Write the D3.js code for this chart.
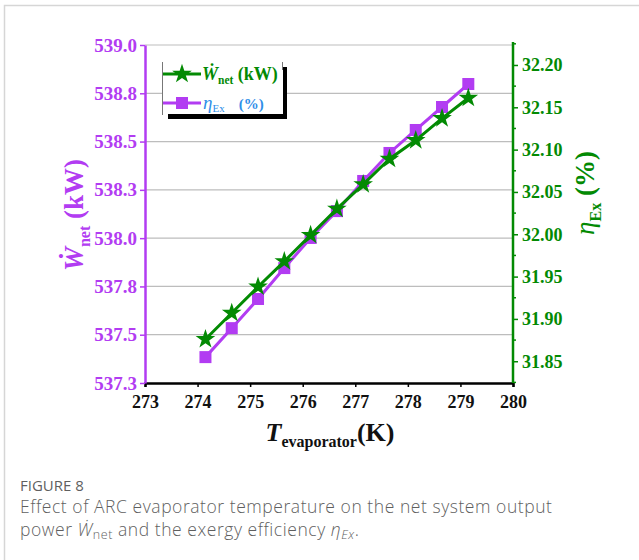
<!DOCTYPE html>
<html>
<head>
<meta charset="utf-8">
<script src="https://cdn.jsdelivr.net/npm/d3@7"></script>
<style>
  body { margin: 0; background: #fff; }
  svg { display: block; }
</style>
</head>
<body>
<script>
// evaporator temperature (K)
var temps = [274.15, 274.65, 275.15, 275.65, 276.15, 276.65, 277.15, 277.65, 278.15, 278.65, 279.15];
// net power (kW), left axis
var wnet = [537.384, 537.534, 537.685, 537.845, 538.001, 538.140, 538.296, 538.441, 538.560, 538.679, 538.798];
// exergy efficiency (%), right axis
var etaEx = [31.876, 31.907, 31.938, 31.968, 31.999, 32.030, 32.059, 32.089, 32.111, 32.137, 32.161];

var xTicks = [273, 274, 275, 276, 277, 278, 279, 280];
var leftTicks = [537.25, 537.5, 537.75, 538.0, 538.25, 538.5, 538.75, 539.0];
var rightTicks = [31.85, 31.90, 31.95, 32.00, 32.05, 32.10, 32.15, 32.20];
var rightMinor = [31.825, 31.875, 31.925, 31.975, 32.025, 32.075, 32.125, 32.175, 32.225];

(function() {
var width = 639, height = 560;
var pL = 145, pR = 513, pT = 45, pB = 383;
var purple = "#b23cf2", green = "#038a03", blue = "#2f8ee8";
var serif = "'Liberation Serif', 'Times New Roman', serif";

var svg = d3.select("body").append("svg")
    .attr("width", width)
    .attr("height", height);

// card frame (left and top edges)
svg.append("path")
    .attr("d", "M4.5,560 V5.5 H639")
    .attr("fill", "none")
    .attr("stroke", "#d6d6d6")
    .attr("stroke-width", 1.5);

var x = d3.scaleLinear().domain([273, 280]).range([pL, pR]);
var yL = d3.scaleLinear().domain([537.25, 539.0]).range([pB, pT]);
var yR = d3.scaleLinear().domain([31.8243, 32.2236]).range([pB, pT]);

// grid
svg.append("g").selectAll("line")
    .data(leftTicks.slice(1))
    .join("line")
    .attr("x1", pL).attr("x2", pR)
    .attr("y1", d => yL(d)).attr("y2", d => yL(d))
    .attr("stroke", "#bdbdbd")
    .attr("stroke-width", 1.2);

// bottom axis
var gx = svg.append("g")
    .attr("transform", "translate(0," + pB + ")")
    .call(d3.axisBottom(x).tickValues(xTicks).tickSize(4).tickFormat(d3.format("d")));
gx.select(".domain").attr("stroke", "#000").attr("stroke-width", 2.5);
gx.selectAll(".tick line").attr("stroke", "#000").attr("stroke-width", 1.5);
gx.selectAll("text")
    .attr("fill", "#111")
    .attr("font-family", serif)
    .attr("font-weight", "bold")
    .attr("font-size", 18)
    .attr("dy", "1.0em");

// left axis
var gl = svg.append("g")
    .attr("transform", "translate(" + pL + ",0)")
    .call(d3.axisLeft(yL).tickValues(leftTicks).tickSize(5).tickSizeOuter(0).tickFormat(d3.format(".1f")));
gl.select(".domain").attr("stroke", purple).attr("stroke-width", 2.5);
gl.selectAll(".tick line").attr("stroke", purple).attr("stroke-width", 1.5);
gl.selectAll("text")
    .attr("fill", purple)
    .attr("font-family", serif)
    .attr("font-weight", "bold")
    .attr("font-size", 19)
    .attr("x", -8);

// right axis
var gr = svg.append("g")
    .attr("transform", "translate(" + pR + ",0)")
    .call(d3.axisRight(yR).tickValues(rightTicks).tickSize(5).tickSizeOuter(0).tickFormat(d3.format(".2f")));
gr.select(".domain").attr("stroke", green).attr("stroke-width", 2.5).attr("d", "M0,42V" + pB);
gr.selectAll(".tick line").attr("stroke", green).attr("stroke-width", 1.5);
gr.selectAll("text")
    .attr("fill", green)
    .attr("font-family", serif)
    .attr("font-weight", "bold")
    .attr("font-size", 18)
    .attr("x", 9);
gr.append("g").selectAll("line")
    .data(rightMinor)
    .join("line")
    .attr("x1", 0).attr("x2", 3)
    .attr("y1", d => yR(d)).attr("y2", d => yR(d))
    .attr("stroke", green)
    .attr("stroke-width", 1.5);

// series
var lineL = d3.line().x((d, i) => x(temps[i])).y(d => yL(d));
var lineR = d3.line().x((d, i) => x(temps[i])).y(d => yR(d));

svg.append("path")
    .datum(wnet)
    .attr("d", lineL)
    .attr("fill", "none")
    .attr("stroke", purple)
    .attr("stroke-width", 3);
svg.append("g").selectAll("rect")
    .data(wnet)
    .join("rect")
    .attr("x", (d, i) => x(temps[i]) - 6)
    .attr("y", d => yL(d) - 6)
    .attr("width", 12).attr("height", 12)
    .attr("fill", purple);

svg.append("path")
    .datum(etaEx)
    .attr("d", lineR)
    .attr("fill", "none")
    .attr("stroke", green)
    .attr("stroke-width", 3);
var star = d3.symbol().type(d3.symbolStar).size(120);
svg.append("g").selectAll("path")
    .data(etaEx)
    .join("path")
    .attr("d", star)
    .attr("transform", (d, i) => "translate(" + x(temps[i]) + "," + yR(d) + ")")
    .attr("fill", green);

// legend
var lg = svg.append("g");
lg.append("rect").attr("x", 168).attr("y", 114).attr("width", 119).attr("height", 5).attr("fill", "#000");
lg.append("rect").attr("x", 282).attr("y", 67).attr("width", 5).attr("height", 52).attr("fill", "#000");
lg.append("rect").attr("x", 162).attr("y", 62).attr("width", 121).attr("height", 52).attr("fill", "#fff");
lg.append("line").attr("x1", 162.5).attr("x2", 162.5).attr("y1", 62).attr("y2", 115).attr("stroke", "#777").attr("stroke-width", 1);
lg.append("line").attr("x1", 282.5).attr("x2", 282.5).attr("y1", 62).attr("y2", 70).attr("stroke", "#777").attr("stroke-width", 1);

lg.append("line").attr("x1", 163).attr("x2", 201).attr("y1", 74).attr("y2", 74).attr("stroke", green).attr("stroke-width", 3);
lg.append("path").attr("d", star).attr("transform", "translate(182,74)").attr("fill", green);
lg.append("line").attr("x1", 163).attr("x2", 201).attr("y1", 103).attr("y2", 103).attr("stroke", purple).attr("stroke-width", 3);
lg.append("rect").attr("x", 176).attr("y", 97).attr("width", 12).attr("height", 12).attr("fill", purple);

var t1 = lg.append("text").attr("x", 202).attr("y", 80)
    .attr("font-family", serif).attr("font-weight", "bold").attr("fill", green).attr("font-size", 18);
t1.append("tspan").attr("font-style", "italic").text("W\u0307");
t1.append("tspan").attr("font-size", 11.5).attr("dy", 4).text("net");
t1.append("tspan").attr("dy", -4).text(" (kW)");

var t2 = lg.append("text").attr("x", 203).attr("y", 109)
    .attr("font-family", serif).attr("fill", blue).attr("font-size", 17);
t2.append("tspan").attr("font-style", "italic").attr("font-size", 19).text("\u03b7");
t2.append("tspan").attr("font-size", 11).attr("dy", 3).text("Ex");
t2.append("tspan").attr("dy", -3).attr("dx", 14).attr("font-weight", "bold").attr("font-size", 15).text("(%)");

// axis titles
var tl = svg.append("text")
    .attr("transform", "translate(83,215) rotate(-90)")
    .attr("text-anchor", "middle")
    .attr("font-family", serif).attr("font-weight", "bold").attr("fill", purple).attr("font-size", 27);
tl.append("tspan").attr("font-style", "italic").text("W\u0307");
tl.append("tspan").attr("font-size", 16).attr("dy", 7).text("net");
tl.append("tspan").attr("dy", -7).text(" (kW)");

var tr = svg.append("text")
    .attr("transform", "translate(594,193) rotate(-90)")
    .attr("text-anchor", "middle")
    .attr("font-family", serif).attr("font-weight", "bold").attr("fill", green).attr("font-size", 27);
tr.append("tspan").attr("font-style", "italic").attr("font-weight", "normal").text("\u03b7");
tr.append("tspan").attr("font-size", 16).attr("dy", 7).text("Ex");
tr.append("tspan").attr("dy", -7).text(" (%)");

var tb = svg.append("text")
    .attr("x", 330).attr("y", 441)
    .attr("text-anchor", "middle")
    .attr("font-family", serif).attr("font-weight", "bold").attr("fill", "#111").attr("font-size", 26);
tb.append("tspan").attr("font-style", "italic").text("T");
tb.append("tspan").attr("font-size", 16).attr("dy", 6).text("evaporator");
tb.append("tspan").attr("dy", -6).text("(K)");

// caption
var sans = "'Open Sans', 'Noto Sans', sans-serif";
svg.append("text").attr("x", 20).attr("y", 491)
    .attr("font-family", sans).attr("font-size", 15).attr("fill", "#5f5f5f").text("FIGURE 8");
svg.append("text").attr("x", 20).attr("y", 513)
    .attr("font-family", sans).attr("font-size", 17.5).attr("font-weight", 300).attr("fill", "#5f5f5f")
    .attr("letter-spacing", 0.55)
    .text("Effect of ARC evaporator temperature on the net system output");
var c2 = svg.append("text").attr("x", 20).attr("y", 536)
    .attr("font-family", sans).attr("font-size", 17.5).attr("font-weight", 300).attr("fill", "#5f5f5f")
    .attr("letter-spacing", 0.55);
c2.append("tspan").text("power ");
c2.append("tspan").attr("font-style", "italic").text("W\u0307");
c2.append("tspan").attr("font-size", 12.5).attr("dy", 3).text("net");
c2.append("tspan").attr("dy", -3).text(" and the exergy efficiency ");
c2.append("tspan").attr("font-style", "italic").text("\u03b7");
c2.append("tspan").attr("font-style", "italic").attr("font-size", 12.5).attr("dy", 3).text("Ex");
c2.append("tspan").attr("dy", -3).text(".");
})();
</script>
</body>
</html>
